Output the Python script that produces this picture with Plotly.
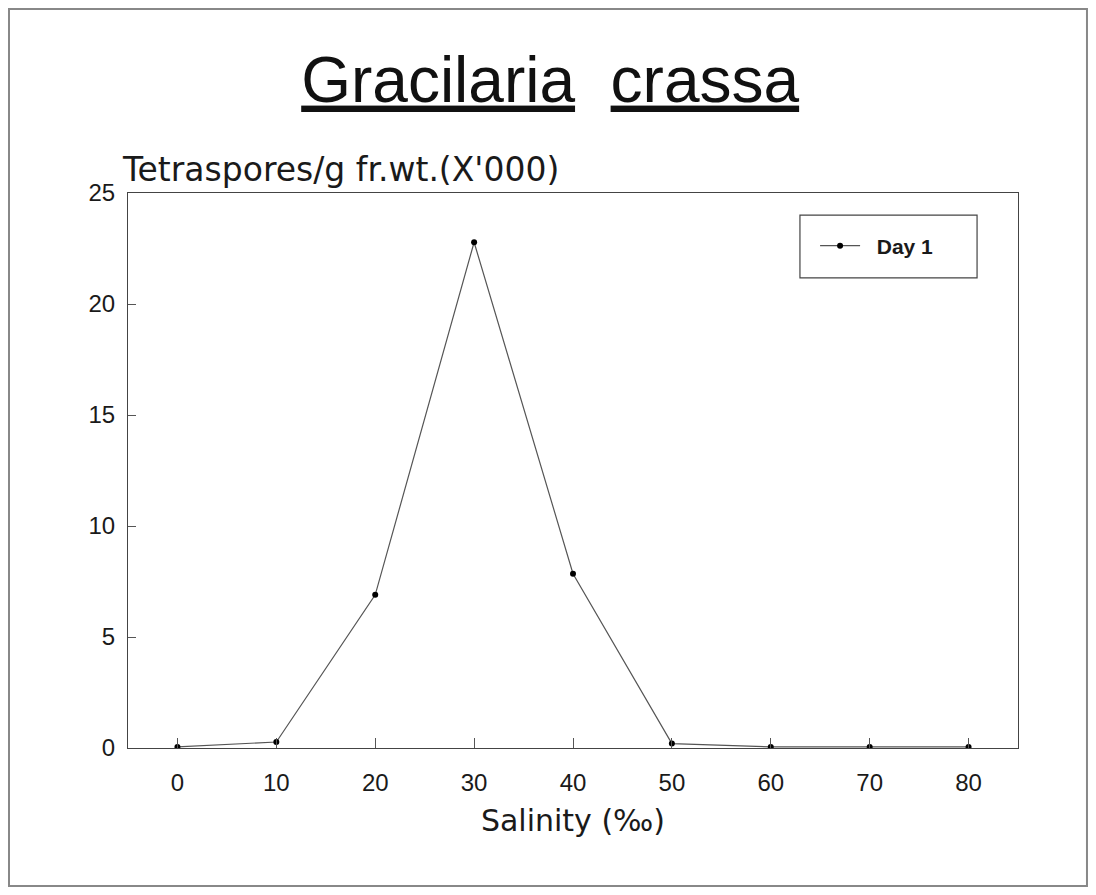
import plotly.graph_objects as go

# salinity (per mille) vs tetraspore release, day 1
salinity = [0, 10, 20, 30, 40, 50, 60, 70, 80]
day1 = [0.05, 0.27, 6.9, 22.78, 7.85, 0.2, 0.05, 0.05, 0.05]

x_ticks = [0, 10, 20, 30, 40, 50, 60, 70, 80]
y_ticks = [0, 5, 10, 15, 20, 25]

FONT = "Liberation Sans, Arial, sans-serif"
WIDE = "DejaVu Sans, sans-serif"

fig = go.Figure()
fig.add_trace(go.Scatter(x=salinity, y=day1, mode='lines+markers',
                         name='&nbsp;&nbsp;<b>Day 1</b>',
                         line=dict(color='#555555', width=1.2),
                         marker=dict(color='black', size=6)))

# page has an 8px body margin, so the figure is a bit smaller than the window
fig.update_layout(
    width=1080, height=879,
    margin=dict(l=120, r=70, t=185, b=139),
    paper_bgcolor='white', plot_bgcolor='white',
    font=dict(family=FONT, color='#1a1a1a'),
    showlegend=True,
    legend=dict(x=0.772, y=0.9045, xanchor='left', yanchor='middle',
                bgcolor='rgba(0,0,0,0)', borderwidth=0,
                font=dict(size=21, color='#1a1a1a'), itemwidth=40),
    title=dict(text='<u>Gracilaria</u>&nbsp;&nbsp;<u>crassa</u>',
               x=0.502, xanchor='center', y=0.919, yanchor='middle',
               font=dict(size=64, color='#111111', family=FONT)),
)

fig.update_xaxes(range=[-5, 85], tickvals=x_ticks, ticks='inside', ticklen=10,
                 tickcolor='#555555', showline=True, linecolor='#444444',
                 linewidth=1.2, mirror=True, showgrid=False, zeroline=False,
                 tickfont=dict(size=24, color='#1a1a1a'), ticklabelstandoff=13,
                 title=dict(text='Salinity (‰)',
                            font=dict(size=30, color='#1a1a1a', family=WIDE),
                            standoff=15))
fig.update_yaxes(range=[0, 25], tickvals=y_ticks, ticks='inside', ticklen=8,
                 tickcolor='#555555', showline=True, linecolor='#444444',
                 linewidth=1.2, mirror=True, showgrid=False, zeroline=False,
                 tickfont=dict(size=24, color='#1a1a1a'), ticklabelstandoff=7)

# y axis label, written above the axis
fig.add_annotation(text="Tetraspores/g fr.wt.(X'000)", xref='paper', yref='paper',
                   x=-0.009, y=1.043, xanchor='left', yanchor='middle',
                   showarrow=False, font=dict(size=33, color='#1a1a1a', family=WIDE))

# legend box
fig.add_shape(type='rect', xref='paper', yref='paper',
              x0=0.755, x1=0.954, y0=0.847, y1=0.960,
              line=dict(color='#444444', width=1.2), fillcolor='rgba(0,0,0,0)')

# outer frame of the figure
fig.add_shape(type='rect', xref='paper', yref='paper',
              x0=-0.1337, x1=1.0775, y0=-0.2486, y1=1.3315,
              line=dict(color='#888888', width=2), fillcolor='rgba(0,0,0,0)',
              layer='below')

fig.write_html("out.html")
